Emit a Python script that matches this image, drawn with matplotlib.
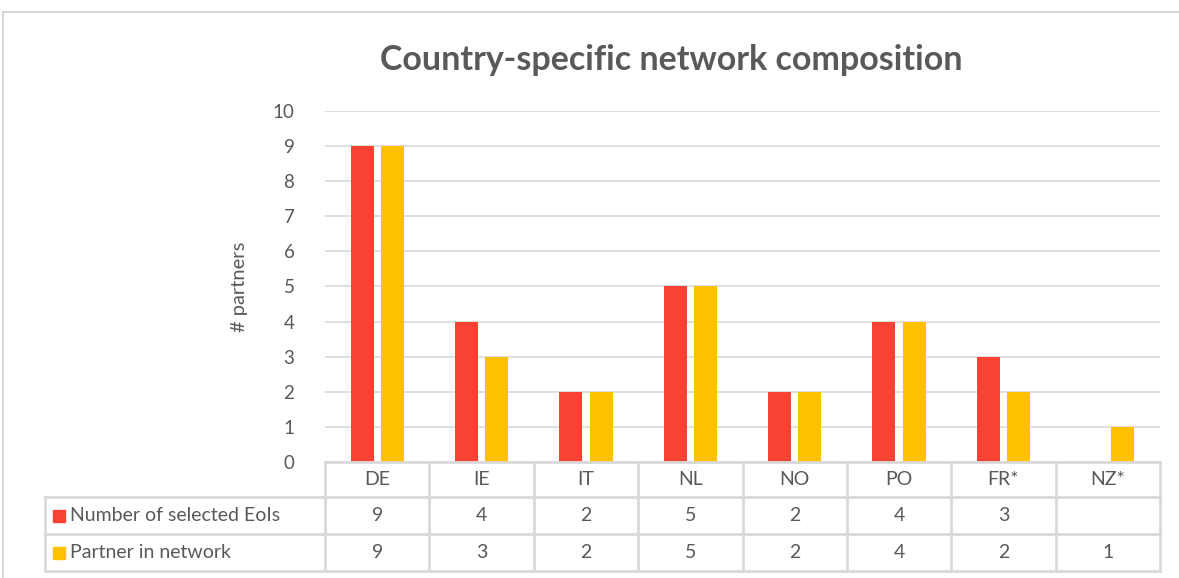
import matplotlib
matplotlib.use("Agg")
import matplotlib.pyplot as plt
from matplotlib.patches import Rectangle
from matplotlib.lines import Line2D

categories = ["DE", "IE", "IT", "NL", "NO", "PO", "FR*", "NZ*"]
series_names = ["Number of selected EoIs", "Partner in network"]
selected_eois = [9, 4, 2, 5, 2, 4, 3, None]
partners = [9, 3, 2, 5, 2, 4, 2, 1]
series_values = [selected_eois, partners]
colors = ["#F94233", "#FFC000"]
yticks = list(range(0, 11))

W, H = 1179, 578
fig = plt.figure(figsize=(W / 100, H / 100), dpi=100)
plt.rcParams['font.family'] = ['Lato', 'DejaVu Sans']
txt = "#595959"
grid = "#D9D9D9"

def fx(px):
    return px / W

def fy(py):
    return 1 - py / H

# plot area in pixels
L, R, T, B = 325, 1160, 111, 462
ax = fig.add_axes([fx(L), fy(B), fx(R) - fx(L), fy(T) - fy(B)])
n = len(categories)
ax.set_xlim(-0.5, n - 0.5)
ax.set_ylim(0, 10)
bw = 0.22
offs = [-0.145, 0.145]
for s, vals in enumerate(series_values):
    xs = [i + offs[s] for i, v in enumerate(vals) if v is not None]
    hs = [v for v in vals if v is not None]
    ax.bar(xs, hs, width=bw, color=colors[s], zorder=3)
ax.set_yticks(yticks)
ax.set_yticklabels([str(t) for t in yticks], fontsize=13.5, color=txt)
ax.tick_params(axis='y', length=0, pad=22)
ax.set_xticks([])
for sp in ax.spines.values():
    sp.set_visible(False)
ax.yaxis.grid(True, color=grid, linewidth=1.2, zorder=0)
ax.set_axisbelow(True)
ax.set_ylabel("# partners", fontsize=14.5, color=txt, labelpad=18)

# title
fig.text(fx(671), fy(60), "Country-specific network composition", ha='center', va='center',
         fontsize=24.5, fontweight='bold', color=txt)

# outer border
fig.patches.append(Rectangle((fx(3), fy(700)), fx(1300), fy(12) - fy(700), transform=fig.transFigure,
                             fill=False, edgecolor="#D0D0D0", linewidth=1.2))

# data table
cw = (R - L) / n
rows_y = [462, 497, 534, 571]
lw = 2.0
def hline(x0, x1, y):
    fig.add_artist(Line2D([fx(x0), fx(x1)], [fy(y), fy(y)], color=grid, linewidth=lw, transform=fig.transFigure))
def vline(x, y0, y1):
    fig.add_artist(Line2D([fx(x), fx(x)], [fy(y0), fy(y1)], color=grid, linewidth=lw, transform=fig.transFigure))

hline(L, R, rows_y[0])
for y in rows_y[1:]:
    hline(45, R, y)
vline(45, rows_y[1], rows_y[3])
for k in range(n + 1):
    vline(L + k * cw, rows_y[0], rows_y[3])

fs = 14
for i, c in enumerate(categories):
    cx = L + (i + 0.5) * cw
    fig.text(fx(cx), fy((rows_y[0] + rows_y[1]) / 2), c, ha='center', va='center', fontsize=fs, color=txt)
    for s, vals in enumerate(series_values):
        v = vals[i]
        if v is not None:
            fig.text(fx(cx), fy((rows_y[s + 1] + rows_y[s + 2]) / 2), str(v), ha='center', va='center',
                     fontsize=fs, color=txt)

for s, name in enumerate(series_names):
    yc = (rows_y[s + 1] + rows_y[s + 2]) / 2
    sq = 12
    fig.patches.append(Rectangle((fx(53), fy(yc + sq / 2)), fx(sq), fy(yc - sq / 2) - fy(yc + sq / 2),
                                 transform=fig.transFigure, color=colors[s]))
    fig.text(fx(70), fy(yc), name, ha='left', va='center', fontsize=fs, color=txt)

fig.savefig("out.png", dpi=100)
